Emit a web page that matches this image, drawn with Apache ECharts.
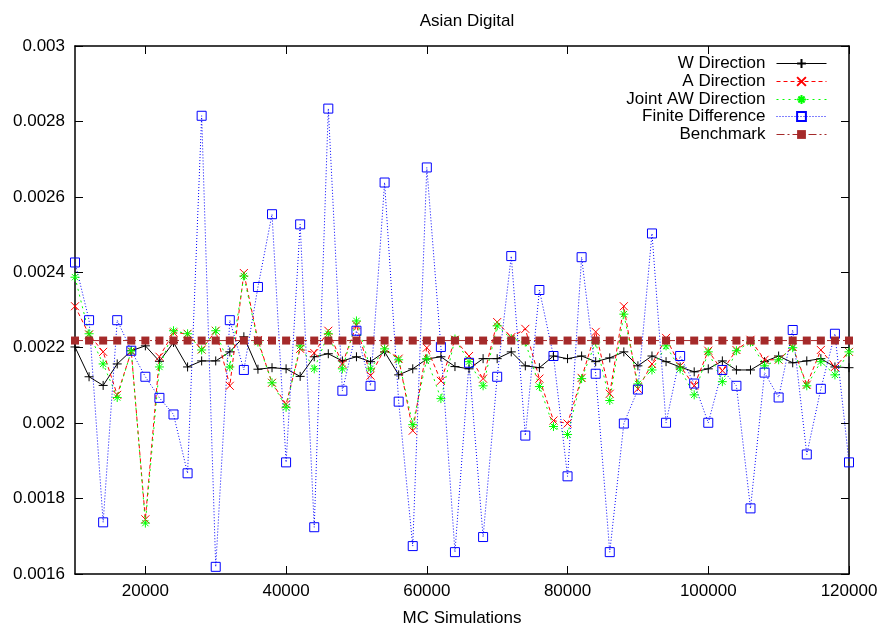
<!DOCTYPE html>
<html>
<head>
<meta charset="utf-8">
<script src="https://cdn.jsdelivr.net/npm/echarts@6/dist/echarts.min.js"></script>
<style>html,body{margin:0;padding:0;background:#fff}#c{width:883px;height:632px}</style>
</head>
<body>
<div id="c"></div>
<script>
const title = 'Asian Digital';
const xName = 'MC Simulations';
const seriesNames = ['W Direction', 'A Direction', 'Joint AW Direction', 'Finite Difference', 'Benchmark'];
const xTicks = [20000, 40000, 60000, 80000, 100000, 120000];
const yTicks = [0.0016, 0.0018, 0.002, 0.0022, 0.0024, 0.0026, 0.0028, 0.003];
const simulations = [10000, 12000, 14000, 16000, 18000, 20000, 22000, 24000, 26000, 28000,
  30000, 32000, 34000, 36000, 38000, 40000, 42000, 44000, 46000, 48000,
  50000, 52000, 54000, 56000, 58000, 60000, 62000, 64000, 66000, 68000,
  70000, 72000, 74000, 76000, 78000, 80000, 82000, 84000, 86000, 88000,
  90000, 92000, 94000, 96000, 98000, 100000, 102000, 104000, 106000, 108000,
  110000, 112000, 114000, 116000, 118000, 120000];
const wDirection = [0.002202, 0.002123, 0.002100, 0.002157, 0.002192, 0.002205, 0.002164, 0.002214, 0.002149, 0.002165,
  0.002165, 0.002189, 0.002229, 0.002143, 0.002147, 0.002144, 0.002124, 0.002176, 0.002184, 0.002165,
  0.002176, 0.002163, 0.002189, 0.002128, 0.002144, 0.002170, 0.002176, 0.002150, 0.002144, 0.002171,
  0.002171, 0.002189, 0.002152, 0.002147, 0.002178, 0.002171, 0.002178, 0.002163, 0.002173, 0.002189,
  0.002152, 0.002178, 0.002163, 0.002149, 0.002136, 0.002144, 0.002165, 0.002141, 0.002141, 0.002163,
  0.002178, 0.002160, 0.002165, 0.002171, 0.002149, 0.002147];
const aDirection = [0.002310, 0.002235, 0.002189, 0.002075, 0.002190, 0.001745, 0.002176, 0.002240, 0.002237, 0.002195,
  0.002245, 0.002099, 0.002398, 0.002220, 0.002107, 0.002050, 0.002197, 0.002186, 0.002245, 0.002157,
  0.002260, 0.002126, 0.002197, 0.002171, 0.001980, 0.002200, 0.002112, 0.002221, 0.002178, 0.002118,
  0.002268, 0.002228, 0.002250, 0.002118, 0.002007, 0.001999, 0.002120, 0.002242, 0.002078, 0.002310,
  0.002091, 0.002157, 0.002226, 0.002152, 0.002099, 0.002192, 0.002139, 0.002194, 0.002221, 0.002168,
  0.002168, 0.002202, 0.002102, 0.002194, 0.002149, 0.002189];
const jointAW = [0.002387, 0.002237, 0.002157, 0.002068, 0.002192, 0.001735, 0.002149, 0.002245, 0.002237, 0.002194,
  0.002245, 0.002149, 0.002390, 0.002215, 0.002107, 0.002042, 0.002205, 0.002144, 0.002237, 0.002144,
  0.002271, 0.002144, 0.002197, 0.002168, 0.001996, 0.002171, 0.002065, 0.002223, 0.002163, 0.002099,
  0.002258, 0.002224, 0.002215, 0.002097, 0.001991, 0.001970, 0.002118, 0.002215, 0.002060, 0.002289,
  0.002104, 0.002141, 0.002205, 0.002144, 0.002075, 0.002189, 0.002110, 0.002192, 0.002215, 0.002152,
  0.002168, 0.002200, 0.002099, 0.002163, 0.002128, 0.002189];
const finiteDiff = [0.002426, 0.002273, 0.001737, 0.002273, 0.002192, 0.002123, 0.002067, 0.002023, 0.001867, 0.002815,
  0.001619, 0.002273, 0.002141, 0.002361, 0.002554, 0.001896, 0.002527, 0.001724, 0.002834, 0.002086,
  0.002245, 0.002099, 0.002638, 0.002057, 0.001674, 0.002678, 0.002202, 0.001658, 0.002160, 0.001698,
  0.002123, 0.002443, 0.001967, 0.002353, 0.002178, 0.001859, 0.002440, 0.002131, 0.001658, 0.001999,
  0.002089, 0.002503, 0.002001, 0.002178, 0.002105, 0.002001, 0.002141, 0.002099, 0.001774, 0.002134,
  0.002068, 0.002247, 0.001917, 0.002091, 0.002237, 0.001896];
const benchmark = [0.002219, 0.002219, 0.002219, 0.002219, 0.002219, 0.002219, 0.002219, 0.002219, 0.002219, 0.002219,
  0.002219, 0.002219, 0.002219, 0.002219, 0.002219, 0.002219, 0.002219, 0.002219, 0.002219, 0.002219,
  0.002219, 0.002219, 0.002219, 0.002219, 0.002219, 0.002219, 0.002219, 0.002219, 0.002219, 0.002219,
  0.002219, 0.002219, 0.002219, 0.002219, 0.002219, 0.002219, 0.002219, 0.002219, 0.002219, 0.002219,
  0.002219, 0.002219, 0.002219, 0.002219, 0.002219, 0.002219, 0.002219, 0.002219, 0.002219, 0.002219,
  0.002219, 0.002219, 0.002219, 0.002219, 0.002219, 0.002219];

const FONT = 'Liberation Sans';
const FS = 17;
const pair = arr => simulations.map((x, i) => [x, arr[i]]);
const fmtY = v => String(+v.toFixed(4));
const fmtX = v => String(Math.round(v));

const SYM_PLUS = 'path://M0,5L10,5M5,0L5,10';
const SYM_X = 'path://M0,0L10,10M0,10L10,0';
const SYM_STAR = 'path://M5,0L5,10M0,5L10,5M1.5,1.5L8.5,8.5M1.5,8.5L8.5,1.5';
const SYM_BOX = 'path://M0,0L10,0L10,10L0,10Z';

const tickStyle = { show: true, inside: true, length: 8, lineStyle: { color: '#000', width: 1 } };
const lineAxis = { show: true, lineStyle: { color: '#000', width: 1.5 } };

const styles = [
  { color: '#000000', type: 'solid', symbol: SYM_PLUS, size: 9, fill: '#000000' },
  { color: '#ff0000', type: [4, 3], symbol: SYM_X, size: 8, fill: '#ff0000' },
  { color: '#00ff00', type: [2, 4], symbol: SYM_STAR, size: 9, fill: '#00ff00' },
  { color: '#0000ff', type: [1, 2], symbol: SYM_BOX, size: 9, fill: 'rgba(0,0,0,0)' },
  { color: '#a52a2a', type: [8, 3, 2, 3], symbol: 'rect', size: 8, fill: '#a52a2a' }
];
const dataSets = [wDirection, aDirection, jointAW, finiteDiff, benchmark];

const legendTops = [55, 73, 91, 108, 126];
const legends = seriesNames.map((n, i) => ({
  data: [n], orient: 'vertical', align: 'right', right: 56, top: legendTops[i],
  itemWidth: 50, itemHeight: 11, padding: 0, selectedMode: false,
  lineStyle: { width: 1, color: styles[i].color, type: styles[i].type },
  textStyle: { fontFamily: FONT, fontSize: FS, color: '#000', padding: [0, 6, 0, 0] }
}));

const series = seriesNames.map((n, i) => ({
  name: n, type: 'line', data: pair(dataSets[i]),
  symbol: styles[i].symbol, symbolSize: styles[i].size,
  lineStyle: { color: styles[i].color, width: 1, type: styles[i].type },
  itemStyle: i === 4 ? { color: styles[i].fill }
    : { color: styles[i].fill, borderColor: styles[i].color, borderWidth: 1 }
}));

const option = {
  backgroundColor: '#fff',
  animation: false,
  title: { text: title, left: 462, top: 8, textAlign: 'center',
    textStyle: { fontFamily: FONT, fontSize: FS, fontWeight: 'normal', color: '#000' } },
  legend: legends,
  grid: { left: 75, right: 34, top: 46, bottom: 56, containLabel: false },
  xAxis: [
    {
      type: 'value', min: 10000, max: 120000, position: 'bottom',
      name: xName, nameLocation: 'middle', nameGap: 36,
      nameTextStyle: { fontFamily: FONT, fontSize: FS, color: '#000' },
      axisLine: lineAxis, splitLine: { show: false },
      axisTick: Object.assign({ customValues: xTicks }, tickStyle),
      axisLabel: { show: true, customValues: xTicks, formatter: fmtX, margin: 9, fontFamily: FONT, fontSize: FS, color: '#000' }
    },
    {
      type: 'value', min: 10000, max: 120000, position: 'top',
      axisLine: lineAxis, splitLine: { show: false },
      axisTick: Object.assign({ customValues: xTicks }, tickStyle),
      axisLabel: { show: false, customValues: xTicks }
    }
  ],
  yAxis: [
    {
      type: 'value', min: 0.0016, max: 0.003, interval: 0.0002, position: 'left',
      axisLine: lineAxis, splitLine: { show: false }, axisTick: tickStyle,
      axisLabel: { show: true, margin: 10, formatter: fmtY, fontFamily: FONT, fontSize: FS, color: '#000' }
    },
    {
      type: 'value', min: 0.0016, max: 0.003, interval: 0.0002, position: 'right',
      axisLine: lineAxis, splitLine: { show: false }, axisTick: tickStyle,
      axisLabel: { show: false }
    }
  ],
  series: series
};
echarts.init(document.getElementById('c'), null, { renderer: 'canvas' }).setOption(option);
</script>
</body>
</html>
